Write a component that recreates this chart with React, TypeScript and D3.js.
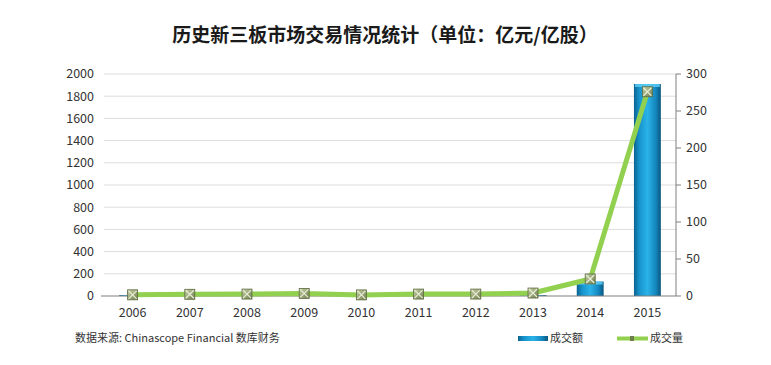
import React from 'react';
import * as d3 from 'd3';

const years = ['2006', '2007', '2008', '2009', '2010', '2011', '2012', '2013', '2014', '2015'];
// 成交额 (亿元)
const turnover = [7.9, 14.8, 12.9, 23.7, 8.2, 9.6, 5.8, 8.1, 130, 1910];
// 成交量 (亿股)
const volume = [1.6, 2.3, 2.6, 3.5, 1.5, 2.6, 2.6, 4.0, 23, 276];
const leftTicks = [0, 200, 400, 600, 800, 1000, 1200, 1400, 1600, 1800, 2000];
const rightTicks = [0, 50, 100, 150, 200, 250, 300];

const W = 771;
const H = 365;
const margin = { top: 74, right: 95, bottom: 69, left: 104 };
const font = '"Noto Sans CJK SC", "Noto Sans", sans-serif';

const App = () => {
  const innerW = W - margin.left - margin.right;
  const innerH = H - margin.top - margin.bottom;

  const x = d3.scaleBand().domain(years).range([0, innerW]).paddingInner(0).paddingOuter(0);
  const yL = d3.scaleLinear().domain([0, 2000]).range([innerH, 0]);
  const yR = d3.scaleLinear().domain([0, 300]).range([innerH, 0]);

  const barW = x.bandwidth() * 0.47;
  const cx = (d: string) => (x(d) ?? 0) + x.bandwidth() / 2;

  const line = d3
    .line<number>()
    .x((_, i) => cx(years[i]))
    .y((d) => yR(d));

  const marker = (px: number, py: number, k: string | number) => (
    <g key={k} transform={`translate(${px},${py})`}>
      <rect x={-5} y={-5} width={10} height={10} fill="url(#mk)" stroke="#5d6b3f" strokeWidth={0.8} />
      <path d="M-4,-4L4,4M4,-4L-4,4" stroke="#e8eed8" strokeWidth={1.2} />
    </g>
  );

  return (
    <svg width={W} height={H} style={{ position: 'absolute', left: 0, top: 0, background: '#fff' }}>
      <defs>
        <linearGradient id="bar" x1="0" x2="1" y1="0" y2="0">
          <stop offset="0" stopColor="#0a6291" />
          <stop offset="0.2" stopColor="#1793cc" />
          <stop offset="0.5" stopColor="#2ab3e8" />
          <stop offset="0.8" stopColor="#1588c0" />
          <stop offset="1" stopColor="#09577f" />
        </linearGradient>
        <linearGradient id="mk" x1="0" x2="1" y1="0" y2="1">
          <stop offset="0" stopColor="#c9d3a8" />
          <stop offset="1" stopColor="#6f7d4c" />
        </linearGradient>
      </defs>

      <text x={385} y={42} textAnchor="middle" fontFamily={font} fontWeight="bold" fontSize={19} fill="#1a1a1a">
        历史新三板市场交易情况统计（单位：亿元/亿股）
      </text>

      <g transform={`translate(${margin.left},${margin.top})`}>
        {leftTicks.map((t) => (
          <g key={t}>
            {t > 0 && <line x1={0} x2={innerW} y1={yL(t)} y2={yL(t)} stroke="#dcdcdc" strokeWidth={1} />}
            <text x={-10} y={yL(t)} dy="0.35em" textAnchor="end" fontFamily={font} fontSize={12.5} fill="#333">
              {t}
            </text>
          </g>
        ))}

        {years.map((y, i) => {
          const top = yL(turnover[i]);
          const h = innerH - top;
          return (
            <g key={y}>
              <rect x={cx(y) - barW / 2} y={top} width={barW} height={h} fill="url(#bar)" />
              {h > 3 && (
                <rect x={cx(y) - barW / 2 + 1} y={top} width={barW - 2} height={3} fill="#5fd0f5" opacity={0.8} />
              )}
            </g>
          );
        })}

        <line x1={-3} x2={innerW} y1={innerH} y2={innerH} stroke="#7f7f7f" strokeWidth={1} />

        <line x1={innerW} x2={innerW} y1={0} y2={innerH} stroke="#7f7f7f" strokeWidth={1} />
        {rightTicks.map((t) => (
          <g key={t}>
            <line x1={innerW} x2={innerW + 5} y1={yR(t)} y2={yR(t)} stroke="#7f7f7f" />
            <text x={innerW + 10} y={yR(t)} dy="0.35em" fontFamily={font} fontSize={12.5} fill="#333">
              {t}
            </text>
          </g>
        ))}

        <path d={line(volume) ?? ''} fill="none" stroke="#92d050" strokeWidth={5} strokeLinejoin="round" />
        {volume.map((v, i) => marker(cx(years[i]), yR(v), i))}

        {years.map((y) => (
          <text key={y} x={cx(y)} y={innerH + 21} textAnchor="middle" fontFamily={font} fontSize={12.5} fill="#333">
            {y}
          </text>
        ))}
      </g>

      <text x={75} y={342} fontFamily={font} fontSize={11} fill="#333">
        数据来源: Chinascope Financial 数库财务
      </text>

      <rect x={518} y={336} width={30} height={5} fill="url(#bar)" />
      <text x={550} y={342} fontFamily={font} fontSize={11} fill="#333">成交额</text>
      <line x1={617} x2={648} y1={338.5} y2={338.5} stroke="#92d050" strokeWidth={4} />
      <rect x={630} y={336} width={4} height={5} fill="#6f7d4c" />
      <text x={650} y={342} fontFamily={font} fontSize={11} fill="#333">成交量</text>
    </svg>
  );
};

export default App;
